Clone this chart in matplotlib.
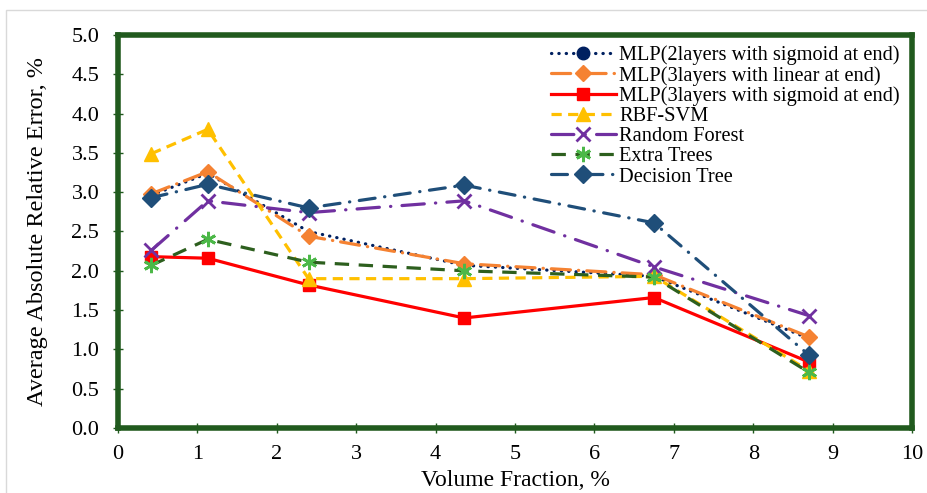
import matplotlib.pyplot as plt
from matplotlib.patches import Rectangle

plt.rcParams['font.family'] = ['Liberation Serif', 'DejaVu Serif']

volume_fraction = [0.42, 1.13, 2.4, 4.36, 6.75, 8.7]

mlp2_sigmoid = [2.96, 3.24, 2.50, 2.07, 1.93, 1.14]
mlp3_linear = [2.98, 3.26, 2.44, 2.09, 1.95, 1.16]
mlp3_sigmoid = [2.18, 2.16, 1.82, 1.40, 1.66, 0.84]
rbf_svm = [3.49, 3.80, 1.90, 1.90, 1.93, 0.73]
random_forest = [2.26, 2.89, 2.74, 2.89, 2.05, 1.43]
extra_trees = [2.07, 2.40, 2.11, 2.00, 1.92, 0.71]
decision_tree = [2.93, 3.10, 2.80, 3.09, 2.61, 0.93]

green = '#215A1E'

fig = plt.figure(figsize=(9.27, 4.93), dpi=100)
fig.patches.append(Rectangle((6 / 927, -0.1), 1.2, (493 - 10) / 493 + 0.1,
                             transform=fig.transFigure, facecolor='none',
                             edgecolor='#D9D9D9', linewidth=1))
ax = fig.add_axes([118 / 927, 65 / 493, 794 / 927, 393 / 493])

lw = 2.3
ax.plot(volume_fraction, mlp2_sigmoid, color='#002060', lw=lw, dashes=(0.1, 2.2),
        dash_capstyle='round', marker='o', ms=9, markevery=[],
        label='MLP(2layers with sigmoid at end)')
ax.plot(volume_fraction, mlp3_linear, color='#F58232', lw=lw, dashes=(6, 2.5, 0.1, 2.5),
        dash_capstyle='round', marker='D', ms=8,
        label='MLP(3layers with linear at end)')
ax.plot(volume_fraction, mlp3_sigmoid, color='#FF0000', lw=lw, marker='s', ms=8,
        label='MLP(3layers with sigmoid at end)')
ax.plot(volume_fraction, rbf_svm, color='#FFC000', lw=lw, dashes=(3.2, 2),
        marker='^', ms=10, label='RBF-SVM')
ax.plot(volume_fraction, random_forest, color='#7030A0', lw=lw, dashes=(7, 3.5, 0.1, 3.5),
        dash_capstyle='round', marker='x', ms=10, mew=2,
        label='Random Forest')
ax.plot(volume_fraction, extra_trees, color='#2D5F1E', lw=lw, dashes=(4.5, 3),
        marker=(6, 2, 0), ms=11, mew=2, mec='#4CB848', mfc='#4CB848',
        label='Extra Trees')
ax.plot(volume_fraction, decision_tree, color='#1F4E79', lw=lw, dashes=(5, 3, 0.1, 3),
        dash_capstyle='round', marker='D', ms=9,
        label='Decision Tree')

ax.set_xlim(0, 10)
ax.set_ylim(0, 5)
ax.set_xticks(range(0, 11))
ax.set_yticks([i * 0.5 for i in range(11)])
ax.set_yticklabels([f'{i * 0.5:.1f}' for i in range(11)])
for spine in ax.spines.values():
    spine.set_color(green)
    spine.set_linewidth(4)
ax.tick_params(direction='inout', length=7, width=1, color=green, labelsize=16)
ax.tick_params(axis='x', pad=9)
ax.tick_params(axis='y', pad=10)

ax.set_xlabel('Volume Fraction, %', fontsize=17, labelpad=4)
ax.set_ylabel('Average Absolute Relative Error, %', fontsize=17.5, labelpad=17)

ax.legend(loc='upper right', bbox_to_anchor=(1.0, 1.005), frameon=False, fontsize=14.7,
          handlelength=3.2, handletextpad=0.15, labelspacing=0.04, borderaxespad=0.2)

fig.savefig('out.png', dpi=100)
